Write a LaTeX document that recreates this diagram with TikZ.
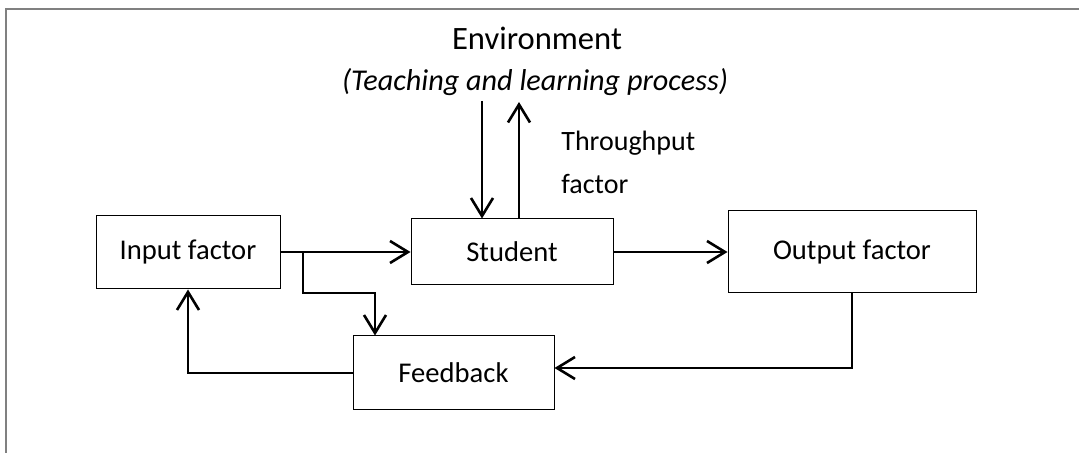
\documentclass[tikz,border=0pt]{standalone}
\usepackage{fontspec}
\setmainfont{Carlito}
\usetikzlibrary{arrows.meta,positioning}
\definecolor{frame}{RGB}{128,128,128}

\begin{document}
\begin{tikzpicture}[x=0.5pt, y=-0.5pt,
  box/.style={draw=black, line width=0.5pt, fill=white, align=center,
              font=\fontsize{14.3}{17}\selectfont, inner sep=0pt},
  arr/.style={-{Straight Barb[length=9pt, width=11pt, line width=1.3pt]}, line width=1.3pt, black},
  lbl/.style={font=\fontsize{14}{21.5}\selectfont, inner sep=0pt}
]
  \useasboundingbox (0,0) rectangle (1079,453);
  % outer frame
  \draw[frame, line width=1pt] (6,470) -- (6,9) -- (1090,9);

  \node[box, minimum width=92pt, minimum height=36.5pt] (input) at (188,252.5) {Input factor};
  \node[box, minimum width=101pt, minimum height=33pt] (student) at (512,252) {Student};
  \node[box, minimum width=124pt, minimum height=41pt] (output) at (852,252) {Output factor};
  \node[box, minimum width=100.5pt, minimum height=36.5pt] (feedback) at (453.5,372.5) {Feedback};

  \node[lbl, font=\fontsize{16.3}{19}\selectfont] (env) at (537,38) {Environment};
  \node[lbl, font=\fontsize{15.1}{18}\selectfont\itshape] (proc) at (535,82) {(Teaching and learning process)};
  \node[lbl, align=left, anchor=west] (thru) at (561,162) {Throughput\\factor};

  \coordinate (envin) at (482,101);
  \coordinate (envout) at (519,102);
  \coordinate (split) at (303,252);

  \draw[arr] (input.east |- split) -- (student.west |- split);
  \draw[arr] (split) |- (375,293) -- (feedback.north -| 375,0);
  \draw[arr] (student.east |- split) -- (output.west |- split);
  \draw[arr] (output.south) |- (feedback.east |- 0,368);
  \draw[arr] (feedback.west |- 0,373) -| (input.south);
  \draw[arr] (envin) -- (student.north -| envin);
  \draw[arr] (student.north -| envout) -- (envout);
\end{tikzpicture}
\end{document}
